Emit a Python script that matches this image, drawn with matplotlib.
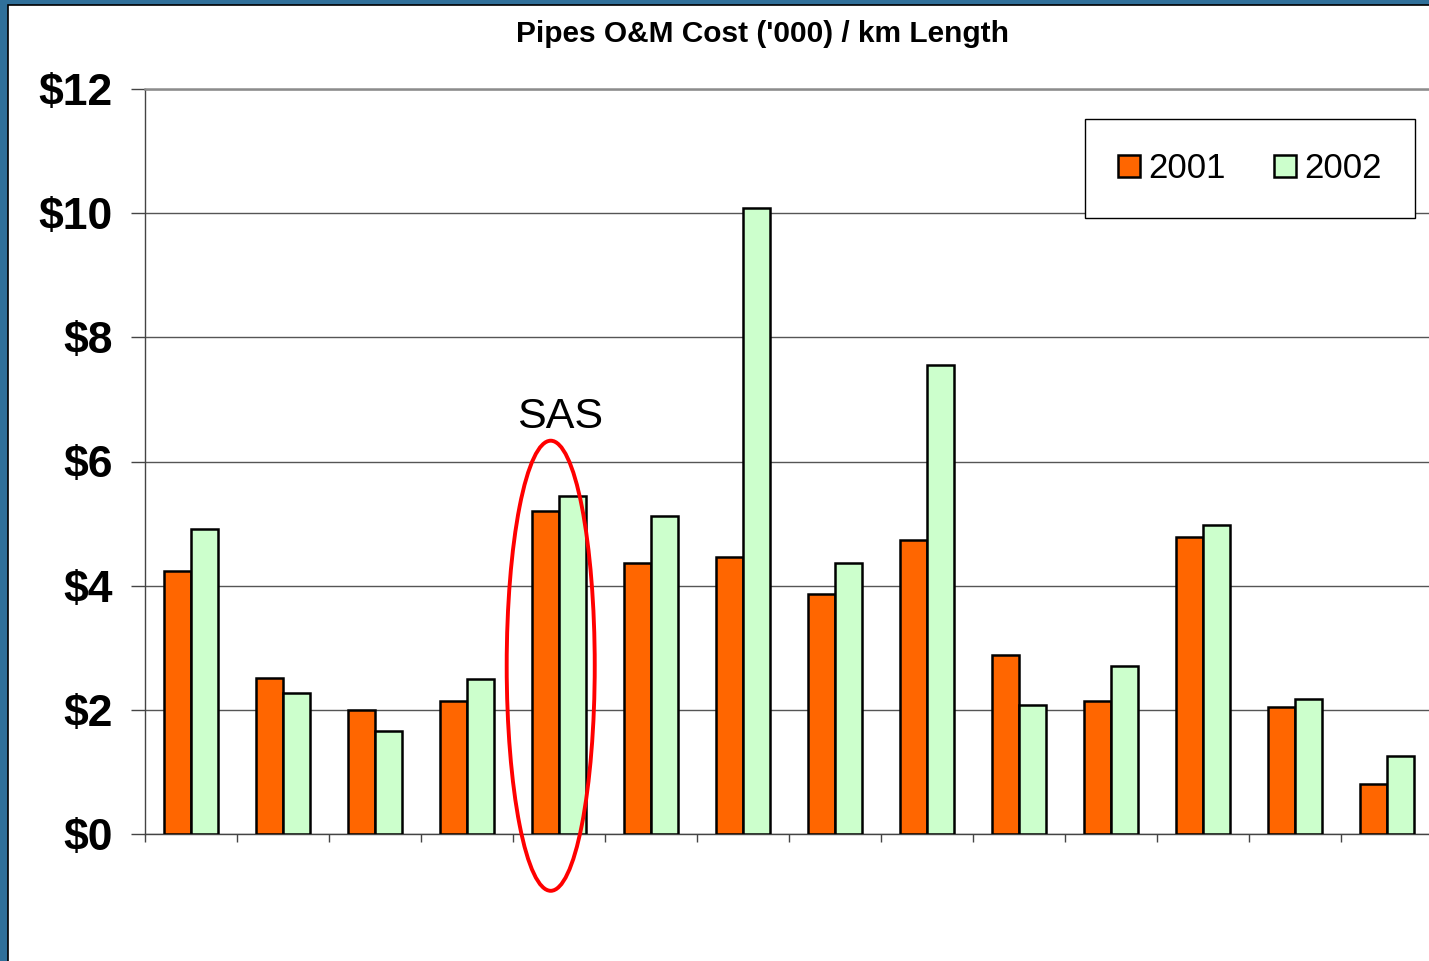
import matplotlib
matplotlib.use("Agg")
import matplotlib.pyplot as plt
from matplotlib.patches import Ellipse, Rectangle
import numpy as np

# ---- data ----
categories = [str(i) for i in range(1, 15)]
series_names = ["2001", "2002"]
values_2001 = [4.24, 2.52, 2.00, 2.14, 5.20, 4.37, 4.46, 3.87, 4.74, 2.89, 2.15, 4.78, 2.05, 0.80]
values_2002 = [4.92, 2.27, 1.66, 2.49, 5.45, 5.12, 10.09, 4.37, 7.55, 2.08, 2.70, 4.97, 2.18, 1.26]
y_ticks = [0, 2, 4, 6, 8, 10, 12]
y_tick_labels = ["$0", "$2", "$4", "$6", "$8", "$10", "$12"]
title = "Pipes O&M Cost ('000) / km Length"
highlight_label = "SAS"
highlight_index = 4

plt.rcParams['font.family'] = ['Liberation Sans', 'DejaVu Sans']

W, H = 1429, 961
fig = plt.figure(figsize=(W / 100, H / 100), dpi=100)
fig.patch.set_facecolor('#30709a')

# white slide panel
panel = Rectangle((8 / W, -0.02), 1.2, 1 - 5 / H + 0.02, transform=fig.transFigure,
                  facecolor='white', edgecolor='black', linewidth=1.2, zorder=-1)
fig.add_artist(panel)

left_px, right_px, top_px, bot_px = 145, 1433, 89, 834
ax = fig.add_axes([left_px / W, (H - bot_px) / H, (right_px - left_px) / W, (bot_px - top_px) / H])
ax.set_facecolor('none')

x = np.arange(len(categories))
w = 0.29
ax.bar(x - w / 2, values_2001, w, color='#ff6600', edgecolor='black', linewidth=1.8,
       label=series_names[0], zorder=3)
ax.bar(x + w / 2, values_2002, w, color='#ccffcc', edgecolor='black', linewidth=1.8,
       label=series_names[1], zorder=3)

ax.set_xlim(-0.5, len(categories) - 0.5)
ax.set_ylim(0, 12)
ax.set_yticks(y_ticks)
ax.set_yticklabels(y_tick_labels, fontsize=32, fontweight='bold')
ax.set_xticks(np.arange(len(categories) + 1) - 0.5)
ax.set_xticklabels([])
ax.tick_params(axis='y', direction='out', length=10, width=1.0, color='#444444', pad=13.5)
ax.tick_params(axis='x', direction='out', length=5.5, width=1.0, color='#444444')

ax.yaxis.grid(True, color='#555555', linewidth=1.0, zorder=0)
ax.set_axisbelow(True)
ax.spines['right'].set_visible(False)
ax.spines['top'].set_color('#8c8c8c')
ax.spines['top'].set_linewidth(1.8)
ax.spines['left'].set_color('#444444')
ax.spines['left'].set_linewidth(1.0)
ax.spines['bottom'].set_color('#444444')
ax.spines['bottom'].set_linewidth(1.0)

# highlight annotation
ell = Ellipse((highlight_index - 0.09, 2.71), 0.957, 7.25, fill=False,
              edgecolor='#ff0000', linewidth=2.8, clip_on=False, zorder=5)
ax.add_patch(ell)
ax.text(highlight_index + 0.01, 6.72, highlight_label, ha='center', va='center',
        fontsize=31, color='black')

fig.text(763 / W, 1 - 34 / H, title, ha='center', va='center',
         fontsize=21.5, fontweight='bold')

leg = ax.legend(loc='upper right', bbox_to_anchor=(1415 / W, 1 - 119 / H),
                bbox_transform=fig.transFigure, ncol=2, fontsize=25,
                frameon=True, fancybox=False, framealpha=1, edgecolor='black',
                handlelength=0.62, handleheight=0.62, handletextpad=0.25,
                columnspacing=1.4, borderpad=0.95, borderaxespad=0)
leg.get_frame().set_linewidth(1.0)

fig.savefig("out.png", dpi=100, facecolor=fig.get_facecolor())
